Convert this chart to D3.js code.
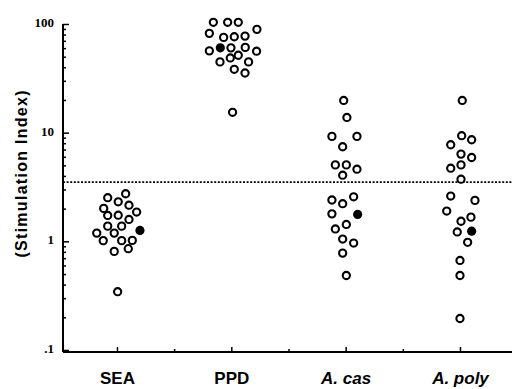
<!DOCTYPE html>
<html lang="en">
<head>
    <meta charset="UTF-8">
    <title>Stimulation Index</title>
    <style>
        body { margin: 0; background: #fff; }
        svg { display: block; }
    </style>
</head>
<body>
    <svg class="si_plot"></svg>
    <script src="https://d3js.org/d3.v7.min.js"></script>
    <script>
    // categories along the bottom, each one gets a column of points
    const categories = ["SEA", "PPD", "A. cas", "A. poly"];
    const italic_cats = [false, false, true, true];

    // stimulation index per subject, offsets are the horizontal spread (in category units)
    const sea_values  = [2.52, 2.74, 2.31, 2.15, 2.01, 1.86, 1.73, 1.74, 1.59, 1.38,
                         1.38, 1.19, 1.19, 1.015, 1.015, 1.02, 0.856, 0.808, 0.344];
    const sea_offsets = [-0.081, 0.076, 0.011, 0.105, -0.116, 0.172, -0.081, 0.011, 0.105, -0.081,
                         0.041, -0.177, -0.024, -0.120, 0.041, 0.134, 0.099, -0.024, 0.006];

    const ppd_values  = [103.7, 103.7, 103.7, 89.3, 82.0, 75.3, 76.3, 77.4, 56.6, 60.3,
                         60.9, 51.6, 56.2, 44.8, 48.7, 44.8, 38.3, 35.4, 15.4];
    const ppd_offsets = [-0.157, -0.032, 0.061, 0.224, -0.192, -0.067, 0.026, 0.120, -0.192, -0.003,
                         0.122, 0.061, 0.221, -0.099, -0.009, 0.151, 0.026, 0.120, 0.011];

    const cas_values  = [19.8, 13.8, 9.24, 9.24, 7.42, 5.05, 5.05, 4.61, 4.06, 2.40,
                         2.22, 2.57, 1.79, 1.30, 1.43, 1.05, 0.964, 0.779, 0.485];
    const cas_offsets = [-0.017, 0.011, -0.120, 0.099, -0.026, -0.090, 0.006, 0.099, -0.026, -0.120,
                         -0.026, 0.070, -0.120, -0.090, 0.006, -0.026, 0.070, -0.026, 0.006];

    const poly_values  = [19.8, 9.38, 8.61, 7.74, 6.35, 5.91, 5.05, 4.71, 3.73, 2.61,
                          2.38, 1.90, 1.53, 1.67, 1.22, 0.979, 0.667, 0.485, 0.195];
    const poly_offsets = [0.020, 0.015, 0.102, -0.081, 0.009, 0.102, 0.009, -0.081, 0.009, -0.081,
                          0.131, -0.116, 0.009, 0.096, -0.024, 0.067, 0, 0, 0];

    // filled dots (group median)
    const median_values  = [1.26, 60.3, 1.77, 1.24];
    const median_offsets = [0.201, -0.096, 0.105, 0.102];

    const cutoff = 3.5;

    const y_major = [0.1, 1, 10, 100];
    const y_labels = [".1", "1", "10", "100"];
    const y_minor = [0.2, 0.3, 0.4, 0.5, 0.6, 0.7, 0.8, 0.9,
                     2, 3, 4, 5, 6, 7, 8, 9,
                     20, 30, 40, 50, 60, 70, 80, 90];
    const x_minor = [0.5, 1.5, 2.5];

    const width = 512, height = 389;
    const margin = {top: 24, left: 63, bottom: 37};

    let svg = d3.select(".si_plot")
        .attr("width", width)
        .attr("height", height);

    let x_scale = d3.scaleLinear()
        .domain([-0.472, 3.455])
        .range([margin.left, width]);

    let y_scale = d3.scaleLog()
        .domain([0.1, 100])
        .range([height - margin.bottom - 2, margin.top]);

    let x_base = height - margin.bottom;

    // y axis: ticks point inward, serif labels
    let y_axis = svg.append("g")
        .attr("transform", "translate(" + margin.left + ",0)")
        .call(d3.axisLeft(y_scale)
            .tickValues(y_major)
            .tickSize(-6)
            .tickPadding(9)
            .tickFormat((d, i) => y_labels[i]));

    svg.append("g")
        .attr("transform", "translate(" + margin.left + ",0)")
        .call(d3.axisLeft(y_scale)
            .tickValues(y_minor)
            .tickSize(-3)
            .tickFormat(""))
        .select(".domain").remove();

    y_axis.select(".domain")
        .attr("d", "M0," + margin.top + "V" + x_base);

    y_axis.selectAll("text")
        .style("font-family", "'Liberation Serif', 'Times New Roman', serif")
        .style("font-weight", "bold")
        .style("font-size", "13px")
        .attr("dy", "0.2em");

    // x axis
    let x_axis = svg.append("g")
        .attr("transform", "translate(0," + x_base + ")")
        .call(d3.axisBottom(x_scale)
            .tickValues([0, 1, 2, 3])
            .tickSize(-5)
            .tickPadding(20)
            .tickFormat((d, i) => categories[i]));

    svg.append("g")
        .attr("transform", "translate(0," + x_base + ")")
        .call(d3.axisBottom(x_scale)
            .tickValues(x_minor)
            .tickSize(-3)
            .tickFormat(""))
        .select(".domain").remove();

    x_axis.select(".domain")
        .attr("d", "M" + margin.left + ",0H" + width);

    x_axis.selectAll("text")
        .style("font-family", "'Liberation Sans', Arial, sans-serif")
        .style("font-weight", "bold")
        .style("font-size", "17px")
        .style("font-style", (d, i) => italic_cats[i] ? "italic" : "normal");

    svg.selectAll(".domain")
        .attr("stroke", "#000")
        .attr("stroke-width", 2);
    svg.selectAll(".tick line")
        .attr("stroke", "#000")
        .attr("stroke-width", 1.5);

    // axis title
    svg.append("text")
        .attr("transform", "translate(27,174) rotate(-90)")
        .attr("text-anchor", "middle")
        .attr("textLength", 167)
        .attr("lengthAdjust", "spacing")
        .style("font-family", "'Liberation Sans', Arial, sans-serif")
        .style("font-weight", "bold")
        .style("font-size", "16px")
        .text("(Stimulation Index)");

    // dashed cutoff line
    svg.append("line")
        .attr("x1", margin.left)
        .attr("x2", width)
        .attr("y1", y_scale(cutoff))
        .attr("y2", y_scale(cutoff))
        .attr("stroke", "#000")
        .attr("stroke-width", 1.8)
        .attr("stroke-dasharray", "2,1.6");

    // open circles for each subject
    let groups = [
        [sea_values, sea_offsets],
        [ppd_values, ppd_offsets],
        [cas_values, cas_offsets],
        [poly_values, poly_offsets]
    ];

    let points = [];
    groups.forEach(([vals, offs], gi) => {
        vals.forEach((v, i) => points.push({cat: gi, off: offs[i], val: v}));
    });

    svg.append("g").selectAll("circle")
        .data(points)
        .enter()
        .append("circle")
        .attr("cx", d => x_scale(d.cat + d.off))
        .attr("cy", d => y_scale(d.val))
        .attr("r", 3.6)
        .style("fill", "#fff")
        .attr("stroke", "#000")
        .attr("stroke-width", 2.1);

    svg.append("g").selectAll("circle")
        .data(median_values)
        .enter()
        .append("circle")
        .attr("cx", (d, i) => x_scale(i + median_offsets[i]))
        .attr("cy", d => y_scale(d))
        .attr("r", 4.6)
        .style("fill", "#000");
    </script>
</body>
</html>
